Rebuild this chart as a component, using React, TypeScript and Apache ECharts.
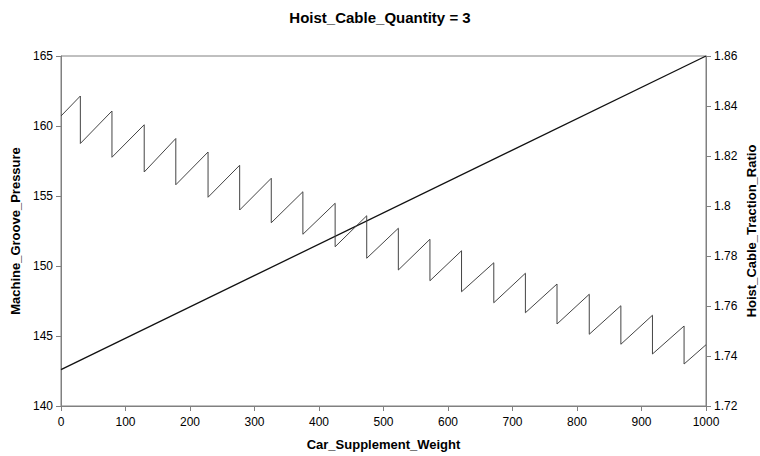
import React, { useEffect, useRef } from "react";
import * as echarts from "echarts";

const title = "Hoist_Cable_Quantity = 3";
const xName = "Car_Supplement_Weight";
const leftName = "Machine_Groove_Pressure";
const rightName = "Hoist_Cable_Traction_Ratio";

// straight line (left axis)
const pressureX = [0, 1000];
const pressureY = [142.6, 165];

// sawtooth (right axis): start, then peaks & troughs at each drop, end
const ratioStart = [0, 1.836];
const dropX = [30, 79, 129, 178, 228, 277, 326, 375, 425, 474, 523, 572, 621, 671, 720, 769, 819, 868, 917, 966];
const peakY = [1.844, 1.838, 1.8325, 1.827, 1.8216, 1.8163, 1.8111, 1.8057, 1.8011, 1.7961, 1.7911, 1.7867, 1.7821, 1.7773, 1.7731, 1.7688, 1.7647, 1.7601, 1.7563, 1.752];
const troughY = [1.825, 1.8195, 1.8136, 1.8085, 1.8035, 1.7984, 1.7933, 1.7887, 1.7837, 1.7791, 1.7744, 1.7701, 1.7657, 1.7613, 1.7573, 1.7528, 1.7487, 1.7447, 1.7408, 1.7368];
const ratioEnd = [1000, 1.7445];

export default function App() {
  const ref = useRef<HTMLDivElement>(null);
  useEffect(() => {
    const chart = echarts.init(ref.current!, null, { renderer: "svg" });
    const ratioData: number[][] = [ratioStart];
    dropX.forEach((x, i) => {
      ratioData.push([x, peakY[i]]);
      ratioData.push([x, troughY[i]]);
    });
    ratioData.push(ratioEnd);
    const pressureData = pressureX.map((x, i) => [x, pressureY[i]]);
    const font = "'Liberation Sans', Arial, sans-serif";
    const axisLine = { show: true, lineStyle: { color: "#808080", width: 1 } };
    const axisTick = { show: true, length: 5, lineStyle: { color: "#808080" } };
    const nameStyle = { fontFamily: font, fontSize: 13, fontWeight: "bold", color: "#000" };
    chart.setOption({
      animation: false,
      backgroundColor: "#ffffff",
      textStyle: { fontFamily: font },
      title: {
        text: title,
        left: "center",
        top: 5,
        textStyle: { fontFamily: font, fontSize: 15, fontWeight: "bold", color: "#000" },
      },
      grid: {
        left: 61,
        right: 54,
        top: 56,
        bottom: 50,
        containLabel: false,
        outerBoundsMode: "none",
        show: true,
        borderColor: "#808080",
        borderWidth: 1,
      },
      xAxis: {
        type: "value",
        min: 0,
        max: 1000,
        interval: 100,
        name: xName,
        nameLocation: "middle",
        nameGap: 32,
        nameMoveOverlap: false,
        nameTextStyle: nameStyle,
        axisLine,
        axisTick,
        splitLine: { show: false },
        axisLabel: { fontFamily: font, fontSize: 12, color: "#000", margin: 10, formatter: (v: number) => String(v) },
      },
      yAxis: [
        {
          type: "value",
          min: 140,
          max: 165,
          interval: 5,
          name: leftName,
          nameLocation: "middle",
          nameGap: 39,
          nameMoveOverlap: false,
          nameTextStyle: nameStyle,
          axisLine,
          axisTick,
          splitLine: { show: false },
          axisLabel: { fontFamily: font, fontSize: 12, color: "#000", margin: 8 },
        },
        {
          type: "value",
          min: 1.72,
          max: 1.86,
          interval: 0.02,
          position: "right",
          name: rightName,
          nameLocation: "middle",
          nameGap: 39,
          nameRotate: 90,
          nameMoveOverlap: false,
          nameTextStyle: nameStyle,
          axisLine,
          axisTick,
          splitLine: { show: false },
          axisLabel: { fontFamily: font, fontSize: 12, color: "#000", margin: 8 },
        },
      ],
      series: [
        {
          type: "line",
          yAxisIndex: 0,
          data: pressureData,
          showSymbol: false,
          lineStyle: { color: "#111", width: 1.3 },
        },
        {
          type: "line",
          yAxisIndex: 1,
          data: ratioData,
          showSymbol: false,
          lineStyle: { color: "#444", width: 1 },
        },
      ],
    });
    return () => chart.dispose();
  }, []);
  return <div ref={ref} style={{ width: 760, height: 456, position: "absolute", left: 0, top: 0 }} />;
}
